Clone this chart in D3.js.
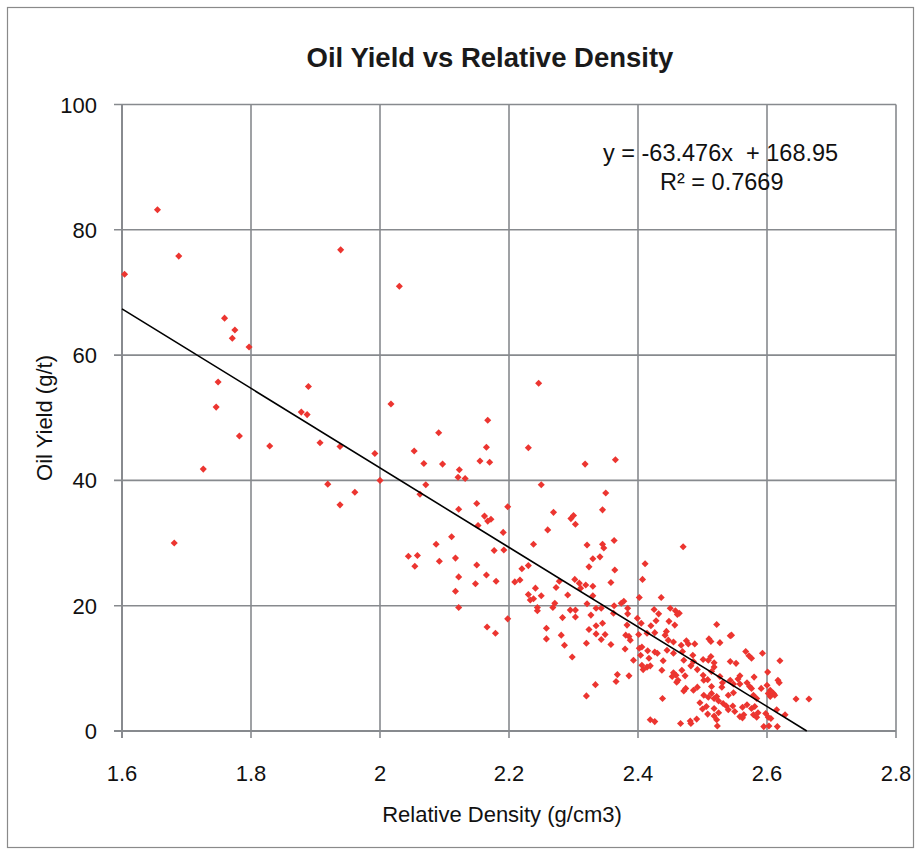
<!DOCTYPE html>
<html><head><meta charset="utf-8">
<script src="https://cdn.jsdelivr.net/npm/d3@7"></script>
<style>body{margin:0;background:#fff}svg{display:block}text{font-family:"Liberation Sans",Arial,sans-serif}</style>
</head><body>
<svg id="c" width="915" height="849"></svg>
<script>
const title = "Oil Yield vs Relative Density";
const xLabel = "Relative Density (g/cm3)";
const yLabel = "Oil Yield (g/t)";
const xTicks = [1.6, 1.8, 2.0, 2.2, 2.4, 2.6, 2.8];
const yTicks = [0, 20, 40, 60, 80, 100];
const slope = -63.476, intercept = 168.95;
const eqText = "y = -63.476x  + 168.95";
const r2Text = "R² = 0.7669";
const density = [
1.655,1.688,1.604,1.939,2.030,1.759,1.775,1.771,1.797,1.749,1.889,1.746,2.017,1.878,1.887,1.782,1.829,1.907,1.938,1.992,1.726,1.919,2.000,1.961,1.938,1.681,
2.246,2.167,2.091,2.053,2.165,2.230,2.068,2.097,2.155,2.170,2.318,2.365,2.123,2.121,2.132,2.071,2.250,2.062,2.350,2.150,2.198,2.122,2.345,2.269,2.162,2.172,2.167,2.296,2.300,2.303,2.152,2.260,2.191,2.111,2.087,2.238,2.321,2.345,2.347,2.363,2.177,2.192,2.044,2.058,
2.054,2.092,2.117,2.150,2.165,2.180,2.122,2.148,2.117,2.122,2.166,2.179,2.198,2.230,2.220,2.209,2.217,2.241,2.230,2.238,2.233,2.250,2.244,2.244,2.273,2.278,2.291,2.271,2.268,2.283,2.258,2.258,2.281,2.286,2.298,2.302,2.309,2.311,2.319,2.330,2.330,2.321,2.295,2.303,2.303,2.327,2.335,2.343,2.324,2.335,2.345,2.335,2.343,2.349,2.320,2.358,2.324,2.330,2.341,2.364,2.358,2.363,2.374,2.378,2.384,2.384,2.383,2.381,2.386,2.388,2.380,2.393,2.368,2.366,2.386,2.334,2.320,
2.470,2.411,2.407,
2.402,2.436,2.362,2.425,2.432,2.450,2.458,2.464,2.461,2.399,2.405,2.428,2.448,2.457,2.522,2.401,2.420,2.414,2.426,2.444,2.442,2.447,2.455,2.467,2.475,2.478,2.488,2.510,2.513,2.527,2.543,2.545,
2.402,2.406,2.415,2.426,2.430,2.404,2.417,2.439,2.445,2.455,2.469,2.471,2.485,2.501,2.513,2.509,2.518,2.543,2.552,2.567,2.572,2.576,2.593,2.620,
2.406,2.414,2.408,2.419,2.437,2.455,2.459,2.453,2.468,2.473,2.462,2.460,2.492,2.501,2.502,2.508,2.518,2.514,2.527,2.531,2.530,2.558,2.555,2.580,2.558,2.569,2.573,2.576,2.591,2.600,2.605,2.610,2.602,2.617,2.619,2.601,
2.438,2.471,2.474,2.486,2.492,2.496,2.502,2.506,2.500,2.518,2.522,2.525,2.518,2.525,2.508,2.518,2.522,2.523,2.532,2.537,2.547,2.540,2.550,2.562,2.569,2.558,2.564,2.562,2.576,2.581,2.586,2.579,2.584,2.598,2.602,2.606,2.595,2.603,2.616,2.615,2.628,2.645,2.665,2.419,2.426,2.466,2.481,2.482,2.491,
2.509,2.514,2.540,2.548,2.543,2.548,2.482,2.486,2.514,2.579,2.584,2.605,2.612
];
const oilYield = [
83.2,75.8,72.9,76.8,71.0,65.9,64.0,62.7,61.3,55.7,55.0,51.7,52.2,50.9,50.5,47.1,45.5,46.0,45.4,44.3,41.8,39.4,40.0,38.1,36.1,30.0,
55.5,49.6,47.6,44.7,45.3,45.2,42.7,42.6,43.1,42.9,42.6,43.3,41.7,40.5,40.3,39.3,39.3,37.8,38.0,36.3,35.8,35.4,35.3,34.9,34.3,33.8,33.5,33.9,34.4,33.0,32.8,32.1,31.7,31.0,29.8,29.8,29.7,29.8,29.2,30.4,28.8,28.9,27.9,28.0,
26.3,27.1,27.6,26.5,24.9,23.9,24.6,23.5,22.3,19.7,16.6,15.6,17.9,26.4,25.9,23.8,24.1,22.8,21.8,21.1,20.9,21.6,19.7,19.2,22.9,23.9,21.7,20.4,19.7,18.1,16.4,14.7,15.3,13.7,11.8,24.2,23.6,22.8,23.3,23.1,21.6,20.3,19.3,19.3,18.2,18.5,19.6,19.6,16.2,16.8,17.2,15.5,14.6,15.4,14.0,13.8,26.2,27.5,27.8,25.7,23.7,20.0,20.4,20.7,19.6,18.7,16.9,15.3,15.1,14.5,13.1,11.3,9.0,7.9,8.8,7.4,5.6,
29.4,26.7,24.2,
21.3,21.3,18.8,19.4,18.7,19.6,19.2,18.8,18.6,18.0,17.2,17.6,17.5,16.9,17.0,15.4,16.8,15.6,15.7,15.9,15.3,14.5,14.2,13.7,14.4,13.9,13.9,14.7,14.3,14.1,15.2,15.3,
13.2,13.4,12.8,12.6,12.4,12.1,11.6,11.2,12.9,12.4,12.7,11.3,12.1,11.4,11.9,11.3,10.9,11.1,10.8,12.7,12.0,11.6,12.4,11.2,
10.5,10.2,9.8,10.4,9.7,9.3,8.9,8.7,9.7,8.8,8.1,7.8,9.8,8.9,8.1,8.2,10.2,9.5,8.7,7.7,7.0,8.8,8.3,8.6,7.5,7.7,7.1,6.8,6.8,7.3,6.5,6.0,6.0,8.1,7.7,9.4,
5.2,6.4,6.8,6.5,7.0,4.5,5.7,3.9,3.5,5.2,5.5,4.8,3.6,2.9,2.7,2.4,1.8,0.8,4.4,4.0,4.0,3.4,3.1,3.8,4.2,2.3,2.6,2.1,3.6,3.9,2.9,2.6,2.2,2.8,2.2,2.0,0.7,0.8,0.7,3.4,2.6,5.1,5.1,1.8,1.5,1.2,1.6,1.2,1.9,
5.4,6.0,5.7,6.1,8.1,7.5,10.4,11.1,7.1,5.7,5.2,5.5,5.7
];
const points = density.map((d,i)=>({x:d,y:oilYield[i]}));

const svg = d3.select("#c");
const L=122, R=896, T=104.5, B=731;
const x = d3.scaleLinear().domain([1.6,2.8]).range([L,R]);
const y = d3.scaleLinear().domain([0,100]).range([B,T]);
const grid="#878a8e";

svg.append("rect").attr("x",7.5).attr("y",7.5).attr("width",906).attr("height",840)
  .attr("fill","#fff").attr("stroke","#8a8a8a").attr("stroke-width",1.2);

// grid
svg.append("g").selectAll("line").data(yTicks).join("line")
  .attr("x1",L-8).attr("x2",R).attr("y1",d=>y(d)).attr("y2",d=>y(d))
  .attr("stroke",grid).attr("stroke-width",1.6);
svg.append("g").selectAll("line").data(xTicks).join("line")
  .attr("y1",T).attr("y2",B+7).attr("x1",d=>x(d)).attr("x2",d=>x(d))
  .attr("stroke",grid).attr("stroke-width",1.6);
svg.append("line").attr("x1",L).attr("x2",L).attr("y1",T).attr("y2",B+7).attr("stroke",grid).attr("stroke-width",1.9);
svg.append("line").attr("x1",L-8).attr("x2",R).attr("y1",B).attr("y2",B).attr("stroke",grid).attr("stroke-width",1.9);

// tick labels
svg.append("g").selectAll("text").data(yTicks).join("text")
  .attr("x",97).attr("y",d=>y(d)+8).attr("text-anchor","end")
  .attr("font-size",22).attr("fill","#111").text(d=>d);
svg.append("g").selectAll("text").data(xTicks).join("text")
  .attr("x",d=>x(d)).attr("y",781).attr("text-anchor","middle")
  .attr("font-size",22).attr("fill","#111").text(d=>d3.format("")(+d.toFixed(1)));

// points
const diamond = d3.symbol().type(d3.symbolDiamond2).size(32);
svg.append("g").selectAll("path").data(points).join("path")
  .attr("d",diamond).attr("transform",d=>`translate(${x(d.x)},${y(d.y)})`)
  .attr("fill","#ec3530");

// trendline
const x0=1.6, x1=-intercept/slope;
svg.append("line").attr("x1",x(x0)).attr("y1",y(slope*x0+intercept))
  .attr("x2",x(x1)).attr("y2",y(slope*x1+intercept))
  .attr("stroke","#000").attr("stroke-width",1.6);

// texts
svg.append("text").attr("x",490).attr("y",67).attr("text-anchor","middle")
  .attr("font-size",27.5).attr("font-weight","bold").attr("fill","#1a1a1a").text(title);
svg.append("text").attr("x",502).attr("y",822).attr("text-anchor","middle")
  .attr("font-size",22).attr("fill","#111").text(xLabel);
svg.append("text").attr("transform","translate(52,418) rotate(-90)").attr("text-anchor","middle")
  .attr("font-size",22).attr("fill","#111").text(yLabel);
svg.append("text").attr("x",603).attr("y",161).attr("font-size",23.5).attr("fill","#111").attr("xml:space","preserve").style("white-space","pre").text(eqText);
svg.append("text").attr("x",660).attr("y",190).attr("font-size",23.5).attr("fill","#111").text(r2Text);
</script>
</body></html>
